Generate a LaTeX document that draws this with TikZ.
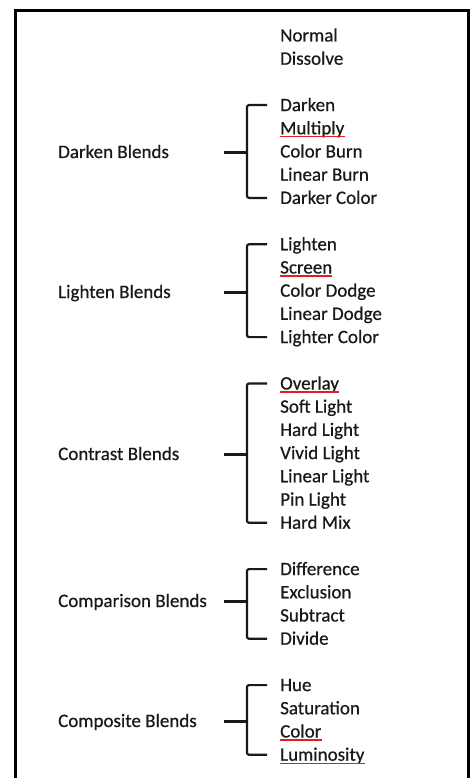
\documentclass[tikz,border=0pt]{standalone}
\usepackage{fontspec}
\setmainfont{Carlito}
\newfontfamily\listfont{Carlito}[FakeBold=0.6]
\usepackage{tikz}
\usetikzlibrary{positioning, calc}
\usepackage{xcolor}
\definecolor{spellred}{RGB}{225, 30, 40}
\definecolor{inkgray}{RGB}{25, 25, 25}

\begin{document}
\begin{tikzpicture}[
    x=1pt, y=-1pt,
    item/.style={anchor=base west, inner sep=0pt, text=inkgray, font=\listfont\fontsize{19pt}{23pt}\selectfont},
    group/.style={item},
    brace/.style={line width=2.2pt, rounded corners=2pt, inkgray},
    squiggle/.style={draw=spellred, line width=1.4pt}
]
    \useasboundingbox (0,0) rectangle (471,778);
    \draw[line width=3pt] (15.5,778) |- (468,11) -- (468,778);

    % Ungrouped modes
    \node[item] (nm) at (280, 41.5) {Normal};
    \node[item] (ds) at (280, 64.7) {Dissolve};

    % Darken
    \node[item] (dk1) at (280, 111.1) {Darken};
    \node[item] (dk2) at (280, 134.3) {Multiply};
    \node[item] (dk3) at (280, 157.5) {Color Burn};
    \node[item] (dk4) at (280, 180.7) {Linear Burn};
    \node[item] (dk5) at (280, 203.9) {Darker Color};
    \node[group] (dkl) at (58, 158) {Darken Blends};

    % Lighten
    \node[item] (lt1) at (280, 250.3) {Lighten};
    \node[item] (lt2) at (280, 273.5) {Screen};
    \node[item] (lt3) at (280, 296.7) {Color Dodge};
    \node[item] (lt4) at (280, 319.9) {Linear Dodge};
    \node[item] (lt5) at (280, 343.1) {Lighter Color};
    \node[group] (ltl) at (58, 298) {Lighten Blends};

    % Contrast
    \node[item] (ct1) at (280, 389.5) {Overlay};
    \node[item] (ct2) at (280, 412.7) {Soft Light};
    \node[item] (ct3) at (280, 435.9) {Hard Light};
    \node[item] (ct4) at (280, 459.1) {Vivid Light};
    \node[item] (ct5) at (280, 482.3) {Linear Light};
    \node[item] (ct6) at (280, 505.5) {Pin Light};
    \node[item] (ct7) at (280, 528.7) {Hard Mix};
    \node[group] (ctl) at (58, 460) {Contrast Blends};

    % Comparison
    \node[item] (cp1) at (280, 575.1) {Difference};
    \node[item] (cp2) at (280, 598.3) {Exclusion};
    \node[item] (cp3) at (280, 621.5) {Subtract};
    \node[item] (cp4) at (280, 644.7) {Divide};
    \node[group] (cpl) at (58, 607) {Comparison Blends};

    % Composite
    \node[item] (cs1) at (280, 691.1) {Hue};
    \node[item] (cs2) at (280, 714.3) {Saturation};
    \node[item] (cs3) at (280, 737.5) {Color};
    \node[item] (cs4) at (280, 760.7) {Luminosity};
    \node[group] (csl) at (58, 727) {Composite Blends};

    % Brackets
    \foreach \top/\bot/\lab in {dk1/dk5/dkl, lt1/lt5/ltl, ct1/ct7/ctl, cp1/cp4/cpl, cs1/cs4/csl} {
        \draw[brace] ([xshift=-13pt, yshift=6pt]\top.base west) -- ++(-20,0)
            |- ([xshift=-13pt, yshift=6pt]\bot.base west);
        \draw[brace] ([yshift=5.5pt]\lab.base west) ++(166,0) -- ++(23,0);
    }

    % Spell-check marks
    \foreach \w in {dk2, lt2, ct1, cs3, cs4} {
        \draw[squiggle] ([yshift=-2.5pt]\w.base west) -- ([yshift=-2.5pt]\w.base east);
    }
\end{tikzpicture}
\end{document}
